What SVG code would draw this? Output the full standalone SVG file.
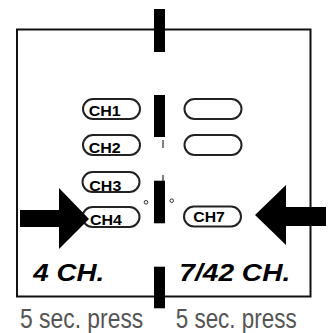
<svg xmlns="http://www.w3.org/2000/svg" width="328" height="333" viewBox="0 0 328 333">
<style>
.btn{fill:#fff;stroke:#222;stroke-width:2}
.lbl{font-family:"Liberation Sans",Arial,sans-serif;font-weight:bold;font-size:15.5px;fill:#000}
.big{font-family:"Liberation Sans",Arial,sans-serif;font-weight:bold;font-style:italic;font-size:23.5px;fill:#000}
.note{font-family:"Liberation Sans",Arial,sans-serif;font-size:27px;fill:#555}
.bar{fill:#000}
.dot{fill:#fff;stroke:#000;stroke-width:0.8}
</style>
<rect width="328" height="333" fill="#fff"/>
<g id="frame">
<rect x="17" y="29.5" width="293.5" height="267" fill="none" stroke="#111" stroke-width="2"/>
</g>
<g id="switch">
<rect class="bar" x="154" y="9" width="11" height="43"/>
<rect class="bar" x="154" y="95" width="11" height="42"/>
<rect class="bar" x="162.5" y="140" width="1" height="8"/>
<rect class="bar" x="154" y="180.7" width="11" height="42.6"/>
<rect class="bar" x="162.5" y="175" width="1" height="6"/>
<rect class="bar" x="154" y="266.7" width="11" height="41.6"/>
<circle class="dot" cx="146" cy="202.3" r="1.8"/>
<circle class="dot" cx="171.7" cy="200.7" r="1.8"/>
</g>
<g id="ch1"><rect class="btn" x="83" y="99" width="57" height="20" rx="10"/><text class="lbl" x="88.7" y="116" textLength="32" lengthAdjust="spacingAndGlyphs">CH1</text></g>
<g id="ch2"><rect class="btn" x="83" y="135" width="57" height="20" rx="10"/><text class="lbl" x="88.7" y="152.5" textLength="32" lengthAdjust="spacingAndGlyphs">CH2</text></g>
<g id="ch3"><rect class="btn" x="82.5" y="172" width="57" height="20" rx="10"/><text class="lbl" x="89.3" y="190.8" textLength="32" lengthAdjust="spacingAndGlyphs">CH3</text></g>
<g id="ch4"><rect class="btn" x="82.5" y="207" width="57" height="20" rx="10"/><text class="lbl" x="90" y="225" textLength="32" lengthAdjust="spacingAndGlyphs">CH4</text></g>
<g id="r1"><rect class="btn" x="184.5" y="99" width="57" height="20" rx="10"/></g>
<g id="r2"><rect class="btn" x="184.5" y="135" width="57" height="20" rx="10"/></g>
<g id="ch7"><rect class="btn" x="184" y="206.5" width="57" height="20" rx="10"/><text class="lbl" x="193.3" y="222" textLength="31.5" lengthAdjust="spacingAndGlyphs">CH7</text></g>
<g id="connectors">
<polygon points="20,210 59,210 59,188 89,219 59,249 59,227 20,227" fill="#000"/>
<polygon points="326,207 286,207 286,185 255,215 286,245 286,226 326,226" fill="#000"/>
</g>
<g id="labels">
<text class="big" x="33.3" y="281.3" textLength="71" lengthAdjust="spacingAndGlyphs">4 CH.</text>
<text class="big" x="179.3" y="281.3" textLength="111" lengthAdjust="spacingAndGlyphs">7/42 CH.</text>
<text class="note" x="20" y="327.5" textLength="123.3" lengthAdjust="spacingAndGlyphs">5 sec. press</text>
<text class="note" x="175.7" y="327.5" textLength="121" lengthAdjust="spacingAndGlyphs">5 sec. press</text>
</g>
</svg>
